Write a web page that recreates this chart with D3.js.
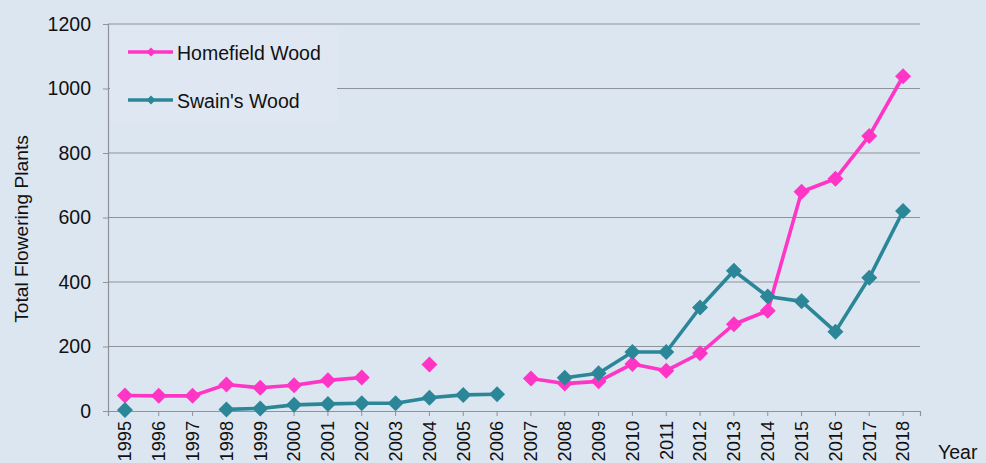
<!DOCTYPE html>
<html><head><meta charset="utf-8">
<script src="https://cdn.jsdelivr.net/npm/d3@7"></script>
<style>html,body{margin:0;padding:0;background:#dce6f1;}svg{display:block;font-family:"Liberation Sans",Arial,sans-serif;}</style>
</head><body>
<svg id="chart" width="986" height="463"></svg>
<script>
const years = ["1995","1996","1997","1998","1999","2000","2001","2002","2003","2004","2005","2006","2007","2008","2009","2010","2011","2012","2013","2014","2015","2016","2017","2018"];
const homefield = [48,47,47,82,72,80,95,104,null,144,null,null,101,85,92,146,125,179,269,311,680,720,853,1038];
const swains = [3,null,null,5,8,19,22,24,24,41,50,52,null,103,117,183,183,321,435,355,340,246,413,620];
const yTicks = [0,200,400,600,800,1000,1200];
const seriesNames = ["Homefield Wood","Swain's Wood"];
const colors = ["#ff35c6","#2b8798"];

const svg = d3.select("#chart");
const plotL = 108, plotR = 920, plotT = 24, plotB = 411;
const fs = 19.5;
const x = d3.scaleBand().domain(years).range([plotL, plotR]);
const cx = d => x(d) + x.bandwidth() / 2;
const y = d3.scaleLinear().domain([0, 1200]).range([plotB, plotT]);

svg.append("rect").attr("width",986).attr("height",463).attr("fill","#dce6f1");

// gridlines
svg.append("g").selectAll("line").data(yTicks.filter(t => t > 0)).join("line")
  .attr("x1", plotL).attr("x2", plotR).attr("y1", d => y(d)).attr("y2", d => y(d))
  .attr("stroke", "#8e9299").attr("stroke-width", 1.2);

// y axis
const yAxis = d3.axisLeft(y).tickValues(yTicks).tickSize(5).tickPadding(12).tickFormat(d3.format("d"));
const gy = svg.append("g").attr("transform", `translate(${plotL},0)`).call(yAxis);
gy.select(".domain").attr("stroke", "#8e9299").attr("stroke-width", 1.2);
gy.selectAll(".tick line").attr("stroke", "#8e9299");
gy.selectAll("text").attr("font-size", fs).attr("fill", "#111").attr("font-family", "Liberation Sans, Arial");

// x axis
const xAxis = d3.axisBottom(x).tickSize(5).tickSizeOuter(5).tickPadding(8);
const gx = svg.append("g").attr("transform", `translate(0,${plotB})`).call(xAxis);
gx.select(".domain").attr("stroke", "#8e9299").attr("stroke-width", 1.2);
gx.selectAll(".tick line").attr("stroke", "#8e9299");
gx.selectAll(".tick text").attr("font-size", 18.2).attr("fill", "#111").attr("font-family", "Liberation Sans, Arial")
  .attr("transform", "rotate(-90)").attr("text-anchor", "end")
  .attr("x", -10).attr("y", 0).attr("dy", "0.35em");

// titles
svg.append("text").attr("transform", "translate(28,229) rotate(-90)")
  .attr("text-anchor", "middle").attr("font-size", 19.2).attr("fill", "#111").text("Total Flowering Plants");
svg.append("text").attr("x", 938).attr("y", 459).attr("font-size", fs).attr("fill", "#111").text("Year");

// legend box
svg.append("rect").attr("x", 110).attr("y", 26).attr("width", 227).attr("height", 98).attr("fill", "#dfe8f2");

const diamond = (s) => `M0,${-s}L${s},0L0,${s}L${-s},0Z`;
const series = [homefield, swains];
series.forEach((vals, i) => {
  const data = years.map((yr, j) => ({yr, v: vals[j]}));
  const line = d3.line().defined(d => d.v != null).x(d => cx(d.yr)).y(d => y(d.v));
  svg.append("path").datum(data).attr("d", line).attr("fill", "none")
    .attr("stroke", colors[i]).attr("stroke-width", 3.6).attr("stroke-linejoin", "round");
  svg.append("g").selectAll("path").data(data.filter(d => d.v != null)).join("path")
    .attr("d", diamond(8)).attr("transform", d => `translate(${cx(d.yr)},${y(d.v)})`)
    .attr("fill", colors[i]);
  const ly = i === 0 ? 52 : 100;
  svg.append("line").attr("x1", 128).attr("x2", 173).attr("y1", ly).attr("y2", ly)
    .attr("stroke", colors[i]).attr("stroke-width", 3.4);
  svg.append("path").attr("d", diamond(4.5)).attr("transform", `translate(151,${ly})`).attr("fill", colors[i]);
  svg.append("text").attr("x", 177).attr("y", ly + 7.5).attr("font-size", fs).attr("fill", "#111").text(seriesNames[i]);
});
</script>
</body></html>
